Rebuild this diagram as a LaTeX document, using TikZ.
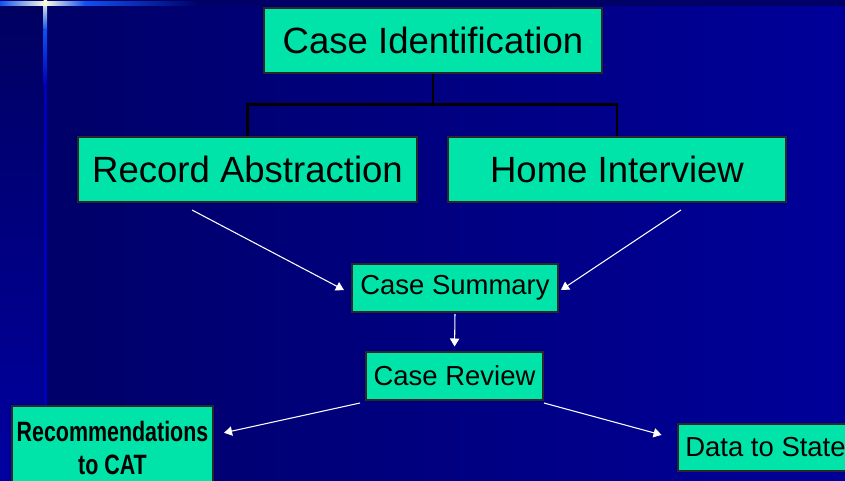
\documentclass[tikz,border=0pt]{standalone}
\usepackage{fontspec}
\setmainfont{Liberation Sans}
\newfontfamily\narrowbf[FakeStretch=0.765]{Liberation Sans Bold}
\usetikzlibrary{arrows.meta}
\definecolor{bgdark}{RGB}{0,0,102}
\definecolor{bgblue}{RGB}{0,0,153}
\definecolor{stripdark}{RGB}{0,0,96}
\definecolor{stripblue}{RGB}{0,0,160}
\definecolor{glowblue}{RGB}{16,80,240}
\definecolor{glowwhite}{RGB}{255,255,225}
\definecolor{boxfill}{RGB}{0,228,170}
\definecolor{boxline}{RGB}{40,40,40}

\begin{document}
\begin{tikzpicture}[x=0.75pt,y=-0.75pt,
    box/.style={draw=boxline,line width=1.5pt,fill=boxfill,inner sep=0pt,text=black},
    bigbox/.style={box,minimum width=253.5pt,minimum height=48.75pt,font=\fontsize{27.4}{32}\selectfont},
    midbox/.style={box,minimum height=36pt,font=\fontsize{20.6}{24}\selectfont},
    tree/.style={line width=1.8pt,black},
    flow/.style={white,line width=0.8pt,-{Triangle[length=6pt,width=7pt]}}]

\useasboundingbox (0,0) rectangle (845,481);
\clip (0,0) rectangle (845,481);

% background
\shade[left color=bgdark,right color=bgblue] (0,0) rectangle (845,481);
\shade[top color=stripdark,bottom color=stripblue] (0,0) rectangle (44,481);
\fill[bgdark] (0,0) rectangle (845,6);
\fill[blue!55!bgdark] (44,0) rectangle (46.5,481);
\shade[top color=glowwhite,bottom color=glowblue] (43.5,0) rectangle (47,30);
\shade[top color=glowblue,bottom color=blue!55!bgdark] (43.5,30) rectangle (47,85);
\shade[left color=glowblue,right color=glowwhite] (0,1.5) rectangle (45,5.5);
\shade[left color=glowwhite,right color=glowblue] (45,1.5) rectangle (85,5.5);
\shade[left color=glowblue,right color=bgdark] (85,1.5) rectangle (200,5.5);

% boxes
\node[bigbox] (caseid) at (433,40.5) {Case Identification};
\node[bigbox,minimum width=254.25pt] (recabs) at (247.5,169.5) {Record Abstraction};
\node[bigbox] (homeint) at (617,169.5) {Home Interview};
\node[midbox,minimum width=154.5pt] (casesum) at (455,288) {Case Summary};
\node[midbox,minimum width=132.75pt] (caserev) at (454.5,375.5) {Case Review};
\node[box,minimum width=150.75pt,minimum height=63pt,align=center,
      font=\narrowbf\fontsize{21}{24.75}\selectfont] (recs) at (112.5,448)
      {Recommendations\\to CAT};
\node[midbox,minimum width=132pt,minimum height=35.25pt] (datastate) at (765.5,447.5) {Data to State};

% tree from the top box
\coordinate (split) at (433,104.5);
\draw[tree] (caseid.south) -- (split) -| (recabs.north);
\draw[tree] (split) -| (homeint.north);

% arrows
\coordinate (raout) at (192,210);
\coordinate (hiout) at (681,210);
\coordinate (crleft) at (360,403);
\coordinate (crright) at (544,403);
\draw[flow,shorten >=6pt] (raout) -- ([yshift=-4.3pt]casesum.west);
\draw[flow,shorten >=1.8pt] (hiout) -- ([yshift=-2.5pt]casesum.east);
\draw[flow,shorten <=0.75pt,shorten >=3pt] (casesum.south) -- (caserev.north);
\draw[flow,shorten >=7.7pt] (crleft) -- ([yshift=9.75pt]recs.east);
\draw[flow,shorten >=11.6pt] (crright) -- ([yshift=6.4pt]datastate.west);
\end{tikzpicture}
\end{document}
